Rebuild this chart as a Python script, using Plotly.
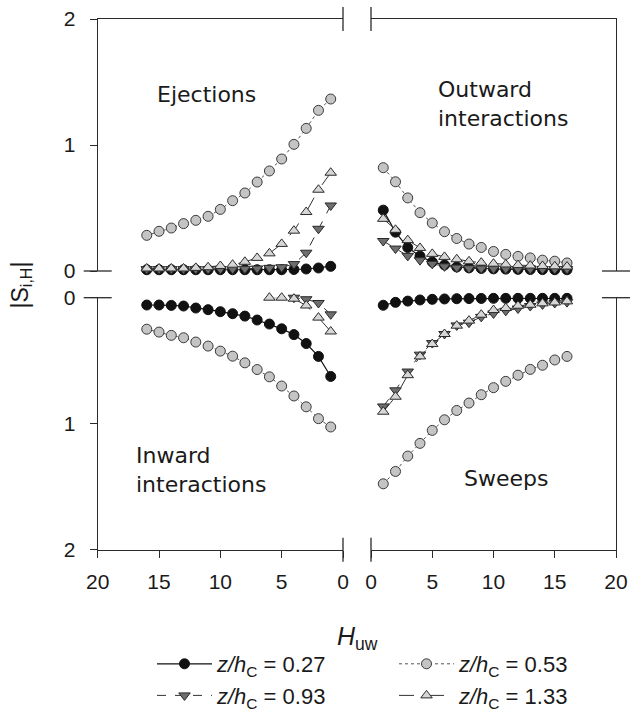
import plotly.graph_objects as go

# H_uw values (same on every quadrant)
H = list(range(1, 17))

# quadrant values, index 0 -> H = 1
ej_027 = [0.037, 0.024, 0.016, 0.012, 0.010, 0.010, 0.010, 0.010, 0.010, 0.010, 0.010, 0.010, 0.010, 0.010, 0.010, 0.010]
ej_053 = [1.365, 1.275, 1.132, 1.005, 0.889, 0.794, 0.706, 0.619, 0.558, 0.489, 0.434, 0.402, 0.376, 0.341, 0.315, 0.283]
ej_093 = [0.520, 0.335, 0.145, 0.055, 0.030, 0.025, 0.020, 0.018, 0.016, 0.015, 0.015, 0.015, 0.015, 0.015, 0.015, 0.015]
ej_133 = [0.780, 0.645, 0.468, 0.320, 0.215, 0.140, 0.104, 0.073, 0.050, 0.040, 0.030, 0.025, 0.020, 0.020, 0.020, 0.020]

ow_027 = [0.483, 0.308, 0.186, 0.118, 0.072, 0.048, 0.032, 0.025, 0.020, 0.017, 0.015, 0.013, 0.012, 0.011, 0.010, 0.010]
ow_053 = [0.820, 0.708, 0.580, 0.463, 0.381, 0.312, 0.258, 0.214, 0.187, 0.155, 0.132, 0.116, 0.104, 0.086, 0.078, 0.064]
ow_093 = [0.238, 0.178, 0.120, 0.086, 0.057, 0.037, 0.027, 0.022, 0.020, 0.018, 0.017, 0.016, 0.015, 0.015, 0.015, 0.015]
ow_133 = [0.414, 0.327, 0.245, 0.183, 0.136, 0.112, 0.093, 0.077, 0.066, 0.058, 0.052, 0.047, 0.043, 0.040, 0.037, 0.035]

iw_027 = [0.625, 0.466, 0.364, 0.293, 0.247, 0.209, 0.177, 0.146, 0.127, 0.111, 0.095, 0.082, 0.066, 0.061, 0.058, 0.058]
iw_053 = [1.026, 0.960, 0.866, 0.780, 0.701, 0.628, 0.570, 0.517, 0.464, 0.424, 0.384, 0.352, 0.318, 0.299, 0.273, 0.250]
iw_093 = [0.132, 0.042, 0.012, 0.000]
iw_133 = [0.268, 0.158, 0.062, 0.008, 0.000, 0.000]

sw_027 = [0.060, 0.037, 0.027, 0.018, 0.013, 0.010, 0.008, 0.007, 0.006, 0.005, 0.005, 0.005, 0.005, 0.005, 0.005, 0.005]
sw_053 = [1.477, 1.379, 1.257, 1.156, 1.053, 0.969, 0.895, 0.836, 0.770, 0.714, 0.664, 0.615, 0.569, 0.536, 0.494, 0.466]
sw_093 = [0.863, 0.735, 0.586, 0.452, 0.360, 0.288, 0.220, 0.198, 0.152, 0.125, 0.104, 0.086, 0.066, 0.053, 0.042, 0.035]
sw_133 = [0.905, 0.786, 0.615, 0.466, 0.368, 0.288, 0.222, 0.182, 0.135, 0.098, 0.082, 0.064, 0.056, 0.045, 0.038, 0.029]

x_ticks = [0, 5, 10, 15, 20]
y_ticks = [0, 1, 2]
series_names = ["0.27", "0.53", "0.93", "1.33"]

AX = "#2a2a2a"
FONT = "Liberation Sans"
LABEL_FONT = "DejaVu Sans"
W, Hh = 630, 713


def fx(p):
    return p / W


def fy(p):
    return 1 - p / Hh


styles = {
    "0.27": dict(marker=dict(symbol="circle", size=10, color="#111111", line=dict(color="#111111", width=1)),
                 line=dict(color="#111111", width=1.2, dash="solid")),
    "0.53": dict(marker=dict(symbol="circle", size=10, color="#c4c4c4", line=dict(color="#3a3a3a", width=1)),
                 line=dict(color="#555555", width=1, dash="dot")),
    "0.93": dict(marker=dict(symbol="triangle-down", size=10, color="#6e6e6e", line=dict(color="#2a2a2a", width=1)),
                 line=dict(color="#333333", width=1, dash="dash")),
    "1.33": dict(marker=dict(symbol="triangle-up", size=10, color="#d6d6d6", line=dict(color="#2a2a2a", width=1)),
                 line=dict(color="#333333", width=1, dash="longdash")),
}

quadrants = [
    ("x", "y", [ej_027, ej_053, ej_093, ej_133]),
    ("x2", "y2", [ow_027, ow_053, ow_093, ow_133]),
    ("x3", "y3", [iw_027, iw_053, iw_093, iw_133]),
    ("x4", "y4", [sw_027, sw_053, sw_093, sw_133]),
]

fig = go.Figure()
for k, name in enumerate(series_names):
    for qi, (xa, ya, vals) in enumerate(quadrants):
        v = vals[k]
        fig.add_trace(go.Scatter(
            x=H[:len(v)], y=v, xaxis=xa, yaxis=ya,
            mode="lines+markers", cliponaxis=False,
            name="<i>z/h</i><sub>C</sub> = " + name,
            legendgroup=name,
            showlegend=(qi == 0),
            **styles[name]))

XL = [fx(97.7), fx(343)]
XR = [fx(371), fx(616)]
YU = [fy(271), fy(19)]
YL = [fy(549.7), fy(297.7)]

base = dict(showgrid=False, zeroline=False, showline=True, linecolor=AX, linewidth=1.3,
            ticks="", showticklabels=False, fixedrange=True, ticklabeloverflow="allow",
            tickfont=dict(family=FONT, size=21, color="#1a1a1a"))
xt = dict(ticks="outside", ticklen=7, tickwidth=1.2, tickcolor=AX, showticklabels=True,
          tickvals=x_ticks, ticktext=[str(t) for t in x_ticks], ticklabelstandoff=6)
yt = dict(ticks="outside", ticklen=7, tickwidth=1.2, tickcolor=AX, showticklabels=True,
          tickvals=y_ticks, ticktext=[str(t) for t in y_ticks], ticklabelstandoff=10)

fig.update_layout(
    width=W, height=Hh,
    margin=dict(l=0, r=0, t=0, b=0, autoexpand=False),
    paper_bgcolor="white", plot_bgcolor="white",
    xaxis=dict(base, domain=XL, range=[20, 0], anchor="y", side="top"),
    xaxis2=dict(base, domain=XR, range=[0, 20], anchor="y2", side="top"),
    xaxis3=dict(base, domain=XL, range=[20, 0], anchor="y3", side="bottom", **xt),
    xaxis4=dict(base, domain=XR, range=[0, 20], anchor="y4", side="bottom", **xt),
    yaxis=dict(base, domain=YU, range=[0, 2], anchor="x", side="left", **yt),
    yaxis2=dict(base, domain=YU, range=[0, 2], anchor="x2", side="right"),
    yaxis3=dict(base, domain=YL, range=[2, 0], anchor="x3", side="left", **yt),
    yaxis4=dict(base, domain=YL, range=[2, 0], anchor="x4", side="right"),
    showlegend=True,
    legend=dict(orientation="h", x=fx(152), xanchor="left", y=fy(643), yanchor="top",
                entrywidth=172, itemwidth=55, traceorder="normal",
                font=dict(family=FONT, size=22, color="#1a1a1a"), bgcolor="rgba(0,0,0,0)"),
)

# axis-break marks
shp = dict(type="line", line=dict(color=AX, width=1.3))
for xr, xv, yr, yv in [("x", 1, "y", 1), ("x2", 0, "y2", 1), ("x3", 1, "y3", 0), ("x4", 0, "y4", 0)]:
    fig.add_shape(shp, xref=xr + " domain", x0=xv, x1=xv, yref=yr + " domain",
                  ysizemode="pixel", yanchor=yv, y0=-12, y1=12)
for xr, xv, yr, yv in [("x", 0, "y", 0), ("x3", 0, "y3", 1), ("x2", 1, "y2", 0), ("x4", 1, "y4", 1)]:
    fig.add_shape(shp, xref=xr + " domain", y0=yv, y1=yv, yref=yr + " domain",
                  xsizemode="pixel", xanchor=xv, x0=-14, x1=14)

ann_font = dict(family=LABEL_FONT, size=22, color="#1a1a1a")
labels = [
    ("Ejections", 206, 95, "center"),
    ("Outward<br>interactions", 436, 104, "left"),
    ("Inward<br>interactions", 134, 470, "left"),
    ("Sweeps", 506, 478, "center"),
]
for txt, px, py, al in labels:
    fig.add_annotation(text=txt, x=fx(px), y=fy(py),
                       xref="paper", yref="paper", showarrow=False, align="left",
                       xanchor="center" if al == "center" else "left", yanchor="middle", font=ann_font)

fig.add_annotation(text="<i>H</i><sub>uw</sub>", x=fx(357), y=fy(656), xref="paper", yref="paper",
                   showarrow=False, font=dict(family=FONT, size=25, color="#1a1a1a"))
fig.add_annotation(text="|S<sub>i,H</sub>|", x=fx(4), y=fy(285), xref="paper", yref="paper",
                   showarrow=False, textangle=-90, font=dict(family=FONT, size=23, color="#1a1a1a"))

# drop the browser's default body margin so the figure fills the window exactly
fig.write_html("out.html", config={"displayModeBar": False},
               post_script="document.body.style.margin='0';")
